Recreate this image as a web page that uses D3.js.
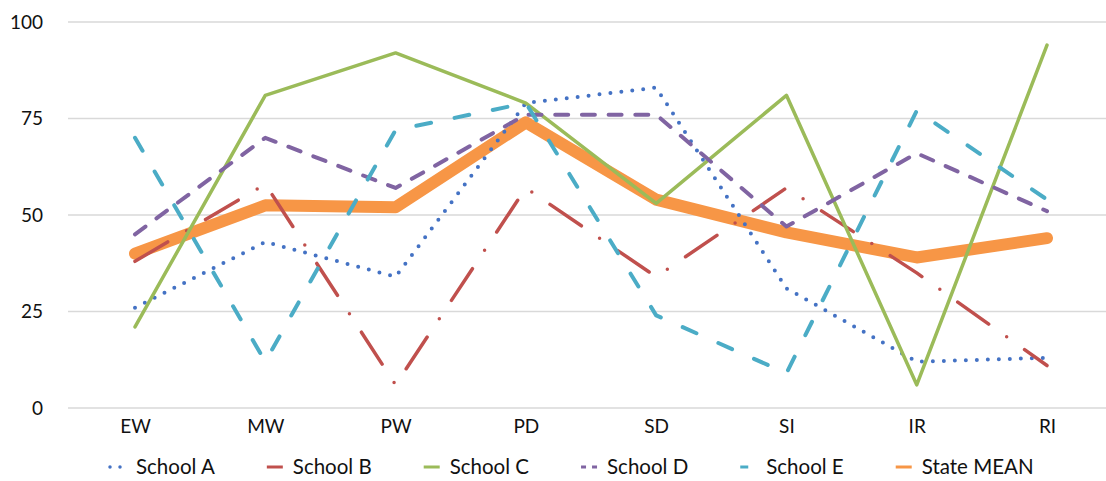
<!DOCTYPE html>
<html>
<head>
<meta charset="utf-8">
<script src="https://cdn.jsdelivr.net/npm/d3@7"></script>
<style>
  body { margin: 0; background: #fff; }
  svg { display: block; font-family: Lato, "Open Sans", sans-serif; }
</style>
</head>
<body>
<svg id="chart" width="1106" height="481"></svg>
<script>
// categories along the x axis
var categories = ["EW", "MW", "PW", "PD", "SD", "SI", "IR", "RI"];
var yTicks = [0, 25, 50, 75, 100];

// series values
var schoolA = [26, 43, 34, 79, 83, 31, 12, 13];
var schoolB = [38, 58, 6, 57, 34, 57, 35, 11];
var schoolC = [21, 81, 92, 79, 53, 81, 6, 94];
var schoolD = [45, 70, 57, 76, 76, 47, 66, 51];
var schoolE = [70, 12, 72, 79, 24, 9, 77, 54];
var stateMean = [40, 52.5, 52, 74, 54, 45.5, 39, 44];

var seriesNames = ["School A", "School B", "School C", "School D", "School E", "State MEAN"];
var seriesValues = [schoolA, schoolB, schoolC, schoolD, schoolE, stateMean];

// styling per series (same order as names)
var styles = [
  {color: "#4472C4", width: 4, dash: "0 11", legendDash: "0 10"},
  {color: "#C0504D", width: 3.5, dash: "38 22 0 22", legendDash: null},
  {color: "#9BBB59", width: 3.5, dash: null, legendDash: null},
  {color: "#8064A2", width: 4, dash: "13 13.7", legendDash: "5 6"},
  {color: "#4BACC6", width: 4, dash: "15 24", legendDash: "8 20"},
  {color: "#F79646", width: 12, dash: null, legendDash: null}
];

var svg = d3.select("#chart");

var x = d3.scalePoint().domain(categories).range([135, 1047]);
var y = d3.scaleLinear().domain([0, 100]).range([408, 22]);

// gridlines + y labels
var grid = svg.append("g");
grid.selectAll("line").data(yTicks).enter().append("line")
  .attr("x1", 68).attr("x2", 1106)
  .attr("y1", function(d){ return y(d); })
  .attr("y2", function(d){ return y(d); })
  .attr("stroke", "#d9d9d9").attr("stroke-width", 1.5);
grid.selectAll("text").data(yTicks).enter().append("text")
  .attr("x", 43)
  .attr("y", function(d){ return y(d); })
  .attr("dy", "0.35em")
  .attr("text-anchor", "end")
  .attr("font-size", 19)
  .attr("fill", "#111")
  .text(function(d){ return d; });

// x axis labels
var xAxis = svg.append("g").attr("transform", "translate(0,426)")
  .call(d3.axisBottom(x).tickSize(0).tickPadding(0));
xAxis.select(".domain").remove();
xAxis.selectAll("text")
  .attr("font-size", 19)
  .attr("font-family", "Lato, 'Open Sans', sans-serif")
  .attr("fill", "#111")
  .attr("dy", "0.35em");

var line = d3.line()
  .x(function(d, i){ return x(categories[i]); })
  .y(function(d){ return y(d); });

// mean drawn underneath, then the schools
var order = [5, 0, 1, 2, 3, 4];
var lines = svg.append("g");
order.forEach(function(k){
  var s = styles[k];
  lines.append("path")
    .datum(seriesValues[k])
    .attr("d", line)
    .attr("fill", "none")
    .attr("stroke", s.color)
    .attr("stroke-width", s.width)
    .attr("stroke-linecap", "round")
    .attr("stroke-linejoin", "round")
    .attr("stroke-dasharray", s.dash);
});

// legend
var legend = svg.append("g").attr("transform", "translate(0,467)");
var lx = 109;
seriesNames.forEach(function(name, i){
  var s = styles[i];
  var item = legend.append("g").attr("transform", "translate(" + lx + ",0)");
  item.append("line")
    .attr("x1", 1).attr("x2", 17).attr("y1", 0).attr("y2", 0)
    .attr("stroke", s.color)
    .attr("stroke-width", i === 0 ? 3.5 : 3)
    .attr("stroke-linecap", i === 0 ? "round" : "butt")
    .attr("stroke-dasharray", s.legendDash);
  var t = item.append("text")
    .attr("x", 27).attr("y", 0).attr("dy", "0.35em")
    .attr("font-size", 20.5)
    .attr("fill", "#111")
    .text(name);
  lx += 27 + t.node().getComputedTextLength() + 51;
});
</script>
</body>
</html>
